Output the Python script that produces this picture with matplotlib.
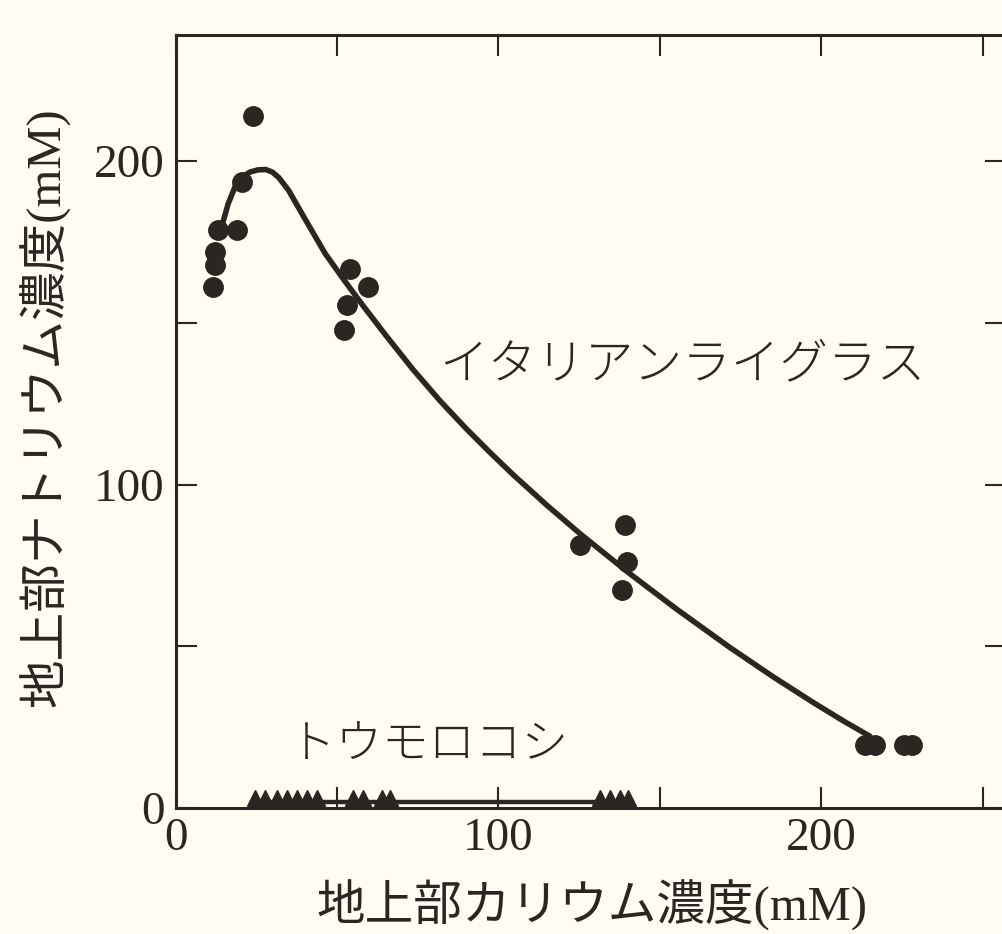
import matplotlib
matplotlib.use("Agg")
import matplotlib.pyplot as plt

# ---- data ----
rye_x = [11.7, 12.2, 12.2, 13.3, 18.9, 20.5, 24.1, 52.3, 53.0, 54.0, 59.7,
         125.2, 138.1, 139.2, 139.7, 213.5, 216.5, 225.5, 228.0]
rye_y = [161.1, 167.9, 172.0, 178.7, 178.7, 193.6, 213.9, 147.8, 155.5, 166.8, 161.2,
         81.3, 67.4, 87.5, 76.1, 19.5, 19.5, 19.5, 19.5]

curve_x = [14.3, 16.3, 18.4, 20.5, 23.0, 25.5, 28.0, 30.0, 32.0, 35.0, 40.0, 46.3,
           52.0, 58.0, 65.0, 73.6, 82.0, 90.0, 97.0, 104.6, 115.0, 125.4, 140.6,
           155.0, 171.7, 185.0, 197.5, 207.0, 215.0]
curve_y = [179.7, 186.8, 192.0, 195.0, 196.6, 197.3, 197.4, 196.6, 194.9, 191.0, 182.3, 171.5,
           163.5, 155.4, 146.3, 135.5, 125.8, 117.3, 110.3, 103.0, 93.6, 84.7, 72.5,
           61.6, 49.6, 40.6, 32.6, 26.8, 22.2]

corn_x = [24.6, 27.7, 31.3, 34.4, 37.5, 40.6, 43.7, 55.0, 58.1, 63.8, 66.4,
          131.4, 134.5, 137.6, 140.1]
corn_y = [3.0] * len(corn_x)
corn_line_y = 1.8

xticks_major = [0, 100, 200]
xticks_minor = [50, 150, 250]
yticks_major = [0, 100, 200]
yticks_minor = [50, 150]

xlabel = "地上部カリウム濃度(mM)"
ylabel = "地上部ナトリウム濃度(mM)"
label_rye = "イタリアンライグラス"
label_corn = "トウモロコシ"

# ---- style ----
ink = "#2b2622"
bg = "#fffdf1"
jp = ["Noto Sans CJK JP", "DejaVu Sans"]
jp_serif = ["Liberation Serif", "Noto Sans CJK JP", "DejaVu Sans"]
num_font = "Liberation Serif"

fig = plt.figure(figsize=(10.02, 9.34), dpi=100, facecolor=bg)
W, H = 1002, 934
left_px, right_px, top_px, bottom_px = 175.5, 1005.5, 35, 808
ax = fig.add_axes([left_px / W, (H - bottom_px) / H,
                   (right_px - left_px) / W, (bottom_px - top_px) / H])
ax.set_facecolor(bg)
ax.set_xlim(0, 257)
ax.set_ylim(0, 239)

for s in ax.spines.values():
    s.set_color(ink)
    s.set_linewidth(2.2)

ax.set_xticks(xticks_major)
ax.set_xticks(xticks_minor, minor=True)
ax.set_yticks(yticks_major)
ax.set_yticks(yticks_minor, minor=True)
ax.set_xticklabels([str(v) for v in xticks_major], fontfamily=num_font, fontsize=34, color=ink)
ax.set_yticklabels([str(v) for v in yticks_major], fontfamily=num_font, fontsize=34, color=ink)
ax.tick_params(which="both", direction="in", length=15, width=1.5, color=ink,
               top=True, right=True)
ax.tick_params(axis="x", which="major", pad=7)
ax.tick_params(axis="y", which="major", pad=8)

# curve and points
ax.plot(curve_x, curve_y, color=ink, lw=4.0, solid_capstyle="round",
        solid_joinstyle="round", zorder=3)
ax.plot(rye_x, rye_y, "o", color=ink, ms=14, mec=ink, zorder=4)

ax.plot([min(corn_x), max(corn_x)], [corn_line_y, corn_line_y], color=ink, lw=3.2, zorder=3)
ax.plot(corn_x, corn_y, "^", color=ink, ms=12, mec=ink, zorder=4, clip_on=False)

ax.text(81.5, 137, label_rye, fontfamily=jp, fontsize=35, fontweight="light",
        color=ink, ha="left", va="center")
ax.text(35.0, 19.5, label_corn, fontfamily=jp, fontsize=33.5, fontweight="light",
        color=ink, ha="left", va="center")

fig.text(592 / W, 1 - 905 / H, xlabel, fontfamily=jp_serif, fontsize=35,
         color=ink, ha="center", va="center")
fig.text(45 / W, 1 - 407 / H, ylabel, fontfamily=jp_serif, fontsize=35,
         color=ink, ha="center", va="center", rotation=90)

fig.savefig("out.png", dpi=100, facecolor=bg)
